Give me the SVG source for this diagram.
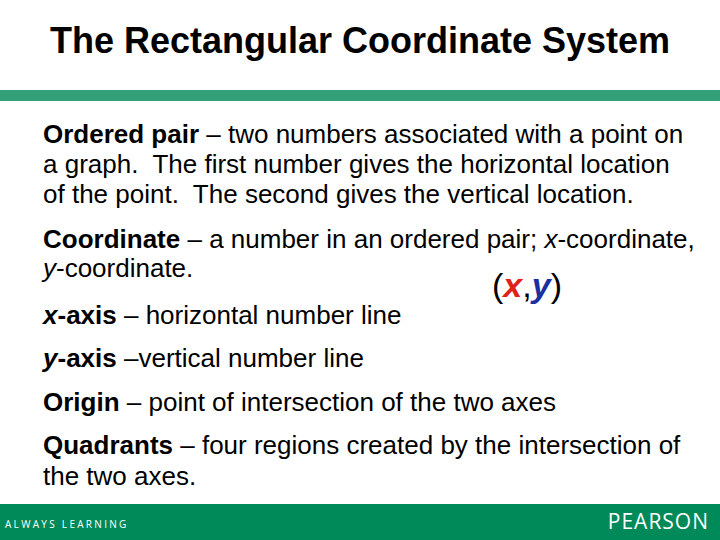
<svg xmlns="http://www.w3.org/2000/svg" width="720" height="540" viewBox="0 0 720 540">
<style>
.t{font-family:"Liberation Sans",Arial,sans-serif;font-size:26px;fill:#000}
.b{font-weight:bold}
.i{font-style:italic}
</style>
<rect width="720" height="540" fill="#fff"/>
<text x="360" y="53" text-anchor="middle" class="t b" style="font-size:36px">The Rectangular Coordinate System</text>
<rect x="0" y="90" width="720" height="11" fill="#33a07a"/>
<text class="t" xml:space="preserve"><tspan x="43" y="143"><tspan class="b">Ordered pair</tspan> – two numbers associated with a point on</tspan><tspan x="43" y="173">a graph.  The first number gives the horizontal location</tspan><tspan x="43" y="203">of the point.  The second gives the vertical location.</tspan></text>
<text class="t"><tspan x="43" y="248"><tspan class="b">Coordinate</tspan> – a number in an ordered pair; <tspan class="i">x</tspan>-coordinate,</tspan><tspan x="43" y="277"><tspan class="i">y</tspan>-coordinate.</tspan></text>
<text x="492" y="297" class="t" style="font-size:34px">(<tspan class="b i" fill="#e0201b">x</tspan>,<tspan class="b i" fill="#1a2fa0">y</tspan>)</text>
<text x="43" y="324" class="t"><tspan class="b i">x</tspan><tspan class="b">-axis</tspan> – horizontal number line</text>
<text x="43" y="367" class="t"><tspan class="b i">y</tspan><tspan class="b">-axis</tspan> –vertical number line</text>
<text x="43" y="411" class="t"><tspan class="b">Origin</tspan> – point of intersection of the two axes</text>
<text class="t"><tspan x="43" y="454"><tspan class="b">Quadrants</tspan> – four regions created by the intersection of</tspan><tspan x="43" y="485">the two axes.</tspan></text>
<rect x="0" y="504" width="720" height="36" fill="#008a5a"/>
<text x="5" y="528" style="font-family:'Open Sans',sans-serif;font-size:10px;letter-spacing:2.3px" fill="#fff">ALWAYS LEARNING</text>
<text x="709" y="529" text-anchor="end" style="font-family:'Open Sans',sans-serif;font-size:21px;letter-spacing:1px" fill="#fff">PEARSON</text>
</svg>
